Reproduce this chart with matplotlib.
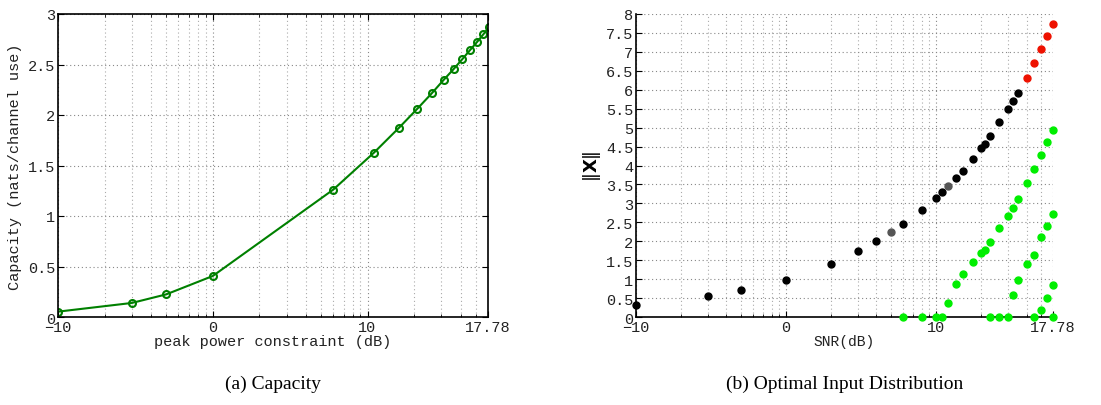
import matplotlib
matplotlib.use("Agg")
import matplotlib.pyplot as plt
from matplotlib.ticker import LogLocator, NullFormatter, FixedLocator

# ---- data ----
cap_x = [0.1, 0.3, 0.5, 1, 6, 11, 16, 21, 26, 31, 36, 41, 46, 51, 56, 61]
cap_y = [0.053, 0.139, 0.224, 0.406, 1.261, 1.627, 1.875, 2.063, 2.215,
         2.347, 2.455, 2.554, 2.644, 2.723, 2.799, 2.87]

black_x = [0.1, 0.3, 0.5, 1, 2, 3, 4, 6, 8, 10, 11, 13.5, 15, 17.5, 20, 21,
           23, 26.4, 30, 32.4, 35]
black_y = [0.32, 0.55, 0.70, 0.99, 1.41, 1.73, 2.0, 2.45, 2.83, 3.15, 3.31,
           3.67, 3.86, 4.18, 4.46, 4.58, 4.79, 5.14, 5.48, 5.70, 5.91]
grey_x = [5, 12]
grey_y = [2.24, 3.46]
red_x = [40, 45, 50, 55, 60]
red_y = [6.32, 6.71, 7.07, 7.41, 7.74]
green_x = [6, 8, 10, 11,
           12, 13.5, 15, 17.5, 20, 21, 23, 26.4, 30, 32.4, 35, 40, 45, 50, 55, 60,
           32.4, 35, 40, 45, 50, 55, 60,
           50, 55, 60,
           23, 26.4, 30, 45, 60]
green_y = [0, 0, 0, 0,
           0.37, 0.86, 1.14, 1.45, 1.68, 1.77, 1.97, 2.36, 2.66, 2.87, 3.11, 3.53,
           3.90, 4.29, 4.62, 4.95,
           0.58, 0.99, 1.39, 1.64, 2.10, 2.39, 2.71,
           0.18, 0.49, 0.85,
           0, 0, 0, 0, 0]

xtick_vals = [0.1, 1, 10, 60]
xtick_labels = ['\u221210', '0', '10', '17.78']
cap_yticks = [0, 0.5, 1, 1.5, 2, 2.5, 3]
snr_yticks = [0, 0.5, 1, 1.5, 2, 2.5, 3, 3.5, 4, 4.5, 5, 5.5, 6, 6.5, 7, 7.5, 8]

mono = 'Liberation Mono'
serif = 'Liberation Serif'

fig = plt.figure(figsize=(11.01, 4.06), dpi=100)
ax1 = fig.add_axes([58/1101, 1-318/406, 430/1101, 303/406])
ax2 = fig.add_axes([636/1101, 1-318/406, 417/1101, 303/406])


def style(ax, yticks, ylim):
    ax.set_xscale('log')
    ax.set_xlim(0.1, 60)
    ax.set_ylim(*ylim)
    ax.xaxis.set_major_locator(FixedLocator(xtick_vals))
    ax.set_xticklabels(xtick_labels, fontfamily=mono, fontsize=11, color='#222222')
    ax.xaxis.set_minor_locator(LogLocator(base=10, subs=range(2, 10), numticks=20))
    ax.xaxis.set_minor_formatter(NullFormatter())
    ax.set_yticks(yticks)
    ax.set_yticklabels([('%g' % v) for v in yticks], fontfamily=mono, fontsize=11,
                       color='#222222')
    ax.tick_params(which='major', direction='in', length=4, width=0.8, pad=2)
    ax.tick_params(which='minor', direction='in', length=2, width=0.6)
    ax.grid(True, which='major', axis='both', linestyle=(0, (1, 2.5)),
            color='#888888', linewidth=0.8)
    ax.grid(True, which='minor', axis='x', linestyle=(0, (1, 2.5)),
            color='#aaaaaa', linewidth=0.8)
    ax.set_axisbelow(True)
    for s in ax.spines.values():
        s.set_linewidth(1.2)
        s.set_color('black')


# ---- left: capacity ----
style(ax1, cap_yticks, (0, 3))
ax1.tick_params(which='both', top=True, right=True)
ax1.plot(cap_x, cap_y, color='#008000', linewidth=1.5, marker='o', markersize=5,
         markerfacecolor='none', markeredgewidth=1.5)
ax1.set_xlabel('peak power constraint (dB)', fontfamily=mono, fontsize=11,
               labelpad=0, color='#222222')
ax1.set_ylabel('Capacity (nats/channel use)', fontfamily=mono, fontsize=11,
               labelpad=4, color='#222222')

# ---- right: optimal input distribution ----
style(ax2, snr_yticks, (0, 8))
ax2.spines['top'].set_visible(False)
ax2.spines['right'].set_visible(False)
kw = dict(linestyle='none', marker='o', markersize=5, clip_on=False, zorder=3)
ax2.plot(green_x, green_y, color='#00ee00', **kw)
ax2.plot(black_x, black_y, color='black', **kw)
ax2.plot(grey_x, grey_y, color='#555555', **kw)
ax2.plot(red_x, red_y, color='#ee1100', **kw)
ax2.set_xlabel('SNR(dB)', fontfamily=mono, fontsize=10.5, labelpad=0,
               color='#222222')
ax2.set_ylabel(r'$\|\mathbf{X}\|$', fontsize=13, labelpad=2)

fig.text(273/1101, 1-384/406, '(a) Capacity', fontfamily=serif, fontsize=14,
         ha='center', va='center')
fig.text(845/1101, 1-384/406, '(b) Optimal Input Distribution', fontfamily=serif,
         fontsize=14, ha='center', va='center')

fig.savefig('out.png', dpi=100)
